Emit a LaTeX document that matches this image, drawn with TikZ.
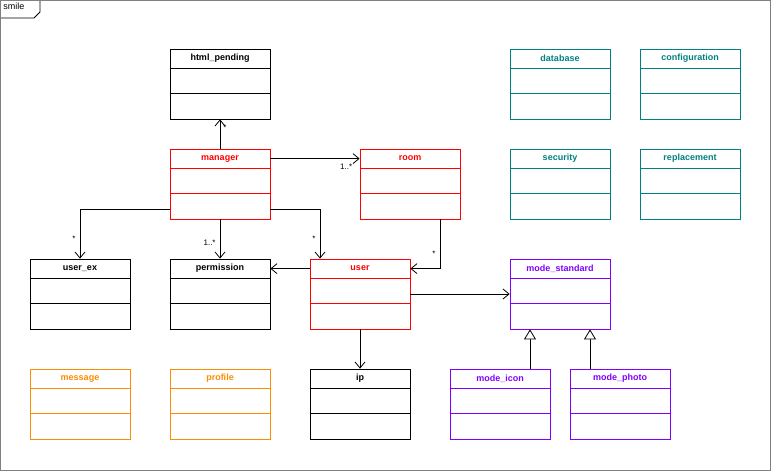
\documentclass[tikz,border=0pt]{standalone}
\usepackage{fontspec}
\setmainfont{Liberation Sans}
\usetikzlibrary{arrows.meta,positioning}
\definecolor{tealc}{RGB}{0,128,128}
\definecolor{violetc}{RGB}{128,0,255}
\definecolor{orangec}{RGB}{255,140,0}
\newcommand{\umlclass}[4]{%
  \node[cls,draw=#4] (#1) at (#2) {};
  \node[font=\bfseries\small,text=#4,anchor=center] (#1-h) at ([yshift=-10pt]#1.north) {#3};
  \draw[#4] ([yshift=-20pt]#1.north west) -- ([yshift=-20pt]#1.north east)
            ([yshift=-45pt]#1.north west) -- ([yshift=-45pt]#1.north east);}
\begin{document}
\begin{tikzpicture}[x=1pt,y=-1pt,line width=0.8pt,
  cls/.style={rectangle,minimum width=100pt,minimum height=70pt,inner sep=0pt},
  assoc/.style={-{Straight Barb[length=6pt,width=10pt]}},
  gen/.style={-{Triangle[open,length=10pt,width=12pt,fill=white]}},
  mult/.style={font=\footnotesize,inner sep=1pt}]
\useasboundingbox (0,0) rectangle (771,471);
\draw[gray] (0.5,0.5) rectangle (770,470);
\node[font=\small,anchor=north west,inner sep=2pt] (frame) at (1,1) {smile};
\draw (1,18) -- (34,18) -- (40,12) -- (40,1);
% classes
\umlclass{html}{220,84}{html\_pending}{black}
\umlclass{manager}{220,184}{manager}{red}
\umlclass{room}{410,184}{room}{red}
\umlclass{userex}{80,294}{user\_ex}{black}
\umlclass{perm}{220,294}{permission}{black}
\umlclass{user}{360,294}{user}{red}
\umlclass{mstd}{560,294}{mode\_standard}{violetc}
\umlclass{message}{80,404}{message}{orangec}
\umlclass{profile}{220,404}{profile}{orangec}
\umlclass{ip}{360,404}{ip}{black}
\umlclass{micon}{500,404}{mode\_icon}{violetc}
\umlclass{mphoto}{620,404}{mode\_photo}{violetc}
\umlclass{db}{560,84}{database}{tealc}
\umlclass{conf}{690,84}{configuration}{tealc}
\umlclass{sec}{560,184}{security}{tealc}
\umlclass{repl}{690,184}{replacement}{tealc}
% associations
\draw[assoc] (manager.north) -- node[mult,right=2pt,pos=0.7]{*} (html.south);
\draw[assoc] (manager-h.east -| manager.east) -- (manager-h.east -| room.west)
  node[mult,below left=4pt and 6pt]{1..*};
\draw[assoc] ([yshift=-25pt]manager.west) -| node[mult,pos=0.8,left=3pt]{*} (userex.north);
\draw[assoc] (manager.south) -- node[mult,pos=0.6,left=3pt]{1..*} (perm.north);
\draw[assoc] ([yshift=-25pt]manager.east) -| node[mult,pos=0.8,left=3pt]{*} ([xshift=-40pt]user.north);
\draw[assoc] ([xshift=30pt]room.south) |- node[mult,pos=0.35,left=3pt]{*} (user-h.east -| user.east);
\draw[assoc] (user-h.west -| user.west) -- (user-h.west -| perm.east);
\draw[assoc] (user.east) -- (user.east -| mstd.west);
\draw[assoc] (user.south) -- (ip.north);
\draw[gen] ([xshift=30pt]micon.north) -- ([xshift=-30pt]mstd.south);
\draw[gen] ([xshift=-30pt]mphoto.north) -- ([xshift=30pt]mstd.south);
\end{tikzpicture}
\end{document}
